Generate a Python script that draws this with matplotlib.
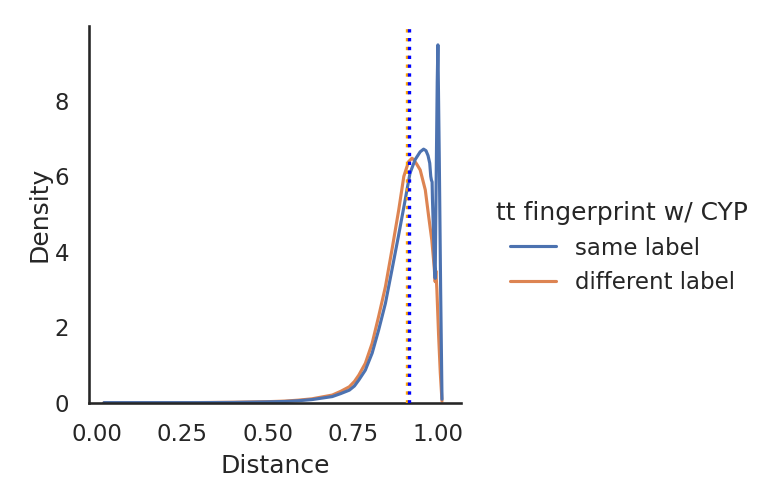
import matplotlib
matplotlib.use('Agg')
import matplotlib.pyplot as plt
import seaborn as sns

# KDE curves (distance vs density)
same_x = [0.02, 0.10, 0.20, 0.30, 0.40, 0.50, 0.55, 0.59, 0.63, 0.66,
          0.69, 0.715, 0.74, 0.755, 0.768, 0.787, 0.807, 0.826, 0.846, 0.865,
          0.884, 0.904, 0.918, 0.933, 0.948, 0.958, 0.965, 0.971, 0.976, 0.979,
          0.981, 0.983, 0.984, 0.987, 0.990, 0.992, 0.995, 0.998, 1.000, 1.004,
          1.008, 1.012]
same_y = [0.01, 0.01, 0.01, 0.01, 0.015, 0.03, 0.04, 0.06, 0.09, 0.13,
          0.17, 0.25, 0.34, 0.45, 0.61, 0.87, 1.32, 1.93, 2.64, 3.52,
          4.41, 5.38, 6.08, 6.44, 6.65, 6.72, 6.68, 6.55, 6.35, 6.00,
          5.90, 5.85, 5.40, 4.50, 3.60, 3.30, 6.00, 8.50, 9.48, 6.50,
          3.00, 0.10]

diff_x = [0.02, 0.10, 0.20, 0.30, 0.40, 0.50, 0.55, 0.59, 0.63, 0.66,
          0.69, 0.715, 0.74, 0.755, 0.768, 0.787, 0.807, 0.826, 0.846, 0.865,
          0.885, 0.900, 0.914, 0.924, 0.929, 0.938, 0.948, 0.963, 0.973, 0.982,
          0.989, 0.992, 0.994, 0.997, 1.002, 1.007, 1.012]
diff_y = [0.01, 0.01, 0.01, 0.012, 0.02, 0.035, 0.05, 0.075, 0.11, 0.16,
          0.21, 0.31, 0.43, 0.57, 0.74, 1.05, 1.58, 2.29, 3.08, 4.05,
          5.11, 6.00, 6.39, 6.48, 6.44, 6.32, 6.17, 5.64, 4.93, 4.32,
          3.61, 3.21, 3.50, 3.00, 1.80, 0.80, 0.05]

# medians marked with dotted lines
diff_median = 0.909
same_median = 0.916

labels = ['same label', 'different label']
legend_title = 'tt fingerprint w/ CYP'

sns.set_theme(style='white')
pal = sns.color_palette('deep')

fig = plt.figure(figsize=(770 / 150, 500 / 150), dpi=150)
ax = fig.add_axes([0.1156, 0.194, 0.4832, 0.754])

l_diff, = ax.plot(diff_x, diff_y, color=pal[1], lw=1.5, label=labels[1])
l_same, = ax.plot(same_x, same_y, color=pal[0], lw=1.5, label=labels[0])

ax.axvline(diff_median, color='orange', ls=':', lw=1.6, zorder=5)
ax.axvline(same_median, color='blue', ls=':', lw=1.6, zorder=5)

ax.set_xlim(-0.024, 1.068)
ax.set_ylim(0, 9.98)
ax.set_xticks([0.0, 0.25, 0.5, 0.75, 1.0])
ax.set_yticks([0, 2, 4, 6, 8])
ax.set_xlabel('Distance')
ax.set_ylabel('Density', labelpad=1.5)
sns.despine(ax=ax)

fig.legend(handles=[l_same, l_diff], labels=labels, title=legend_title,
           loc='center left', bbox_to_anchor=(0.618, 0.505), frameon=False,
           fontsize=11, title_fontsize=12)

fig.savefig('out.png', dpi=150)
